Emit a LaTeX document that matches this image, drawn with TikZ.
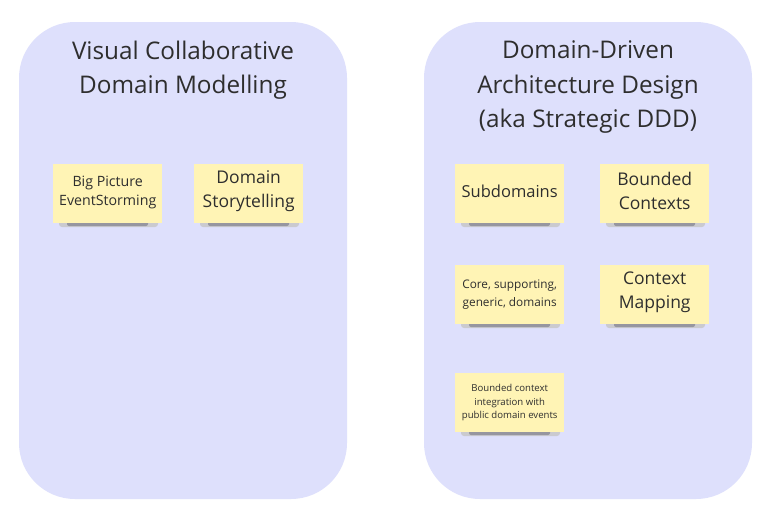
\documentclass[tikz,border=0pt]{standalone}
\usepackage{fontspec}
\setmainfont{Open Sans}
\definecolor{panel}{HTML}{DEE0FC}
\definecolor{sticky}{HTML}{FFF4B5}
\definecolor{txt}{HTML}{2E2E2E}
\definecolor{shade}{HTML}{8A8A95}
\tikzset{
  panelbox/.style={fill=panel, draw=none, rounded corners=56pt},
  stickybox/.style={fill=sticky, draw=none, minimum width=109pt, minimum height=59pt, inner sep=0pt},
  stickytext/.style={text=txt, align=center, inner sep=0pt},
  titletext/.style={text=txt, align=center, font=\fontsize{24.3}{34.5}\selectfont},
}
\newcommand{\stickyat}[6]{% name, x, y (top-left), font, text shift, text
  \fill[shade!45, rounded corners=3pt] (#2+6,#3+53) rectangle (#2+105,#3+63);
  \fill[shade!90, rounded corners=2pt] (#2+14,#3+56) rectangle (#2+95,#3+62);
  \node[stickybox, anchor=north west] (#1) at (#2,#3) {};
  \node[stickytext, font=#4] (#1-t) at ([yshift=#5]#1.center) {#6};
}
\begin{document}
\begin{tikzpicture}[x=1pt,y=-1pt]
\useasboundingbox (0,0) rectangle (769,512);
\fill[white] (0,0) rectangle (769,512);
\path[panelbox] (19,22) rectangle (347,499);
\path[panelbox] (424,22) rectangle (752,499);
\node[titletext] (t1) at (183,70) {Visual Collaborative\\Domain Modelling};
\node[titletext] (t2) at (588,87) {Domain-Driven\\Architecture Design\\(aka Strategic DDD)};
\stickyat{bp}{53}{164}{\fontsize{14.2}{19}\selectfont}{1pt}{Big Picture\\EventStorming}
\stickyat{ds}{194}{164}{\fontsize{17.5}{24}\selectfont}{2.5pt}{Domain\\Storytelling}
\stickyat{sd}{455}{164}{\fontsize{16.5}{22}\selectfont}{2.5pt}{Subdomains}
\stickyat{bc}{600}{164}{\fontsize{17.5}{24}\selectfont}{2.5pt}{Bounded\\Contexts}
\stickyat{cs}{455}{265}{\fontsize{11.8}{17.5}\selectfont}{0pt}{Core, supporting,\\generic, domains}
\stickyat{cm}{600}{265}{\fontsize{17.5}{24}\selectfont}{2.5pt}{Context\\Mapping}
\stickyat{bi}{455}{373}{\fontsize{9.6}{13.5}\selectfont}{0pt}{Bounded context\\integration with\\public domain events}
\end{tikzpicture}
\end{document}
